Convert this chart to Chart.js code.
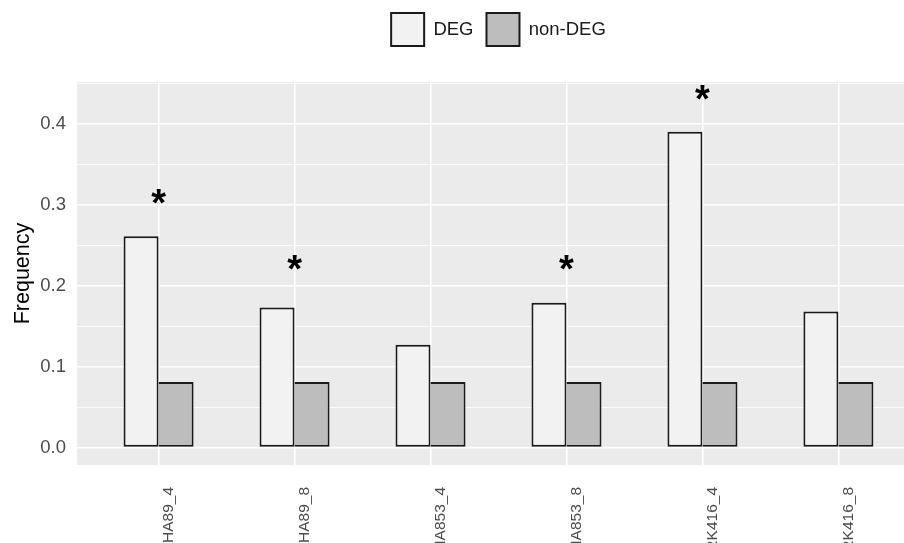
<!DOCTYPE html>
<html><head><meta charset="utf-8">
<script src="https://cdn.jsdelivr.net/npm/chart.js@4.4.1/dist/chart.umd.min.js"></script>
<style>html,body{margin:0;padding:0;background:#fff;overflow:hidden;width:904px;height:543px}canvas{display:block}</style>
</head><body>
<canvas id="c" width="925" height="543" style="width:925px;height:543px"></canvas>
<script>
const categories = ['HA89_4', 'HA89_8', 'HA853_4', 'HA853_8', 'RK416_4', 'RK416_8'];
const seriesNames = ['DEG', 'non-DEG'];
const degValues = [0.261, 0.173, 0.127, 0.179, 0.390, 0.168];
const nonDegValues = [0.081, 0.081, 0.081, 0.081, 0.081, 0.081];
const starValues = [0.310, 0.228, null, 0.229, 0.438, null];
const yTickLabels = ['0.0', '0.1', '0.2', '0.3', '0.4'];
const yAxisTitle = 'Frequency';

const FONT = '"Liberation Sans", Arial, sans-serif';
const isMajor = v => Math.round(v * 100) % 10 === 0;

const panelPlugin = {
  id: 'panel',
  beforeDraw(chart) {
    const {ctx, chartArea: a} = chart;
    ctx.save();
    ctx.fillStyle = '#EBEBEB';
    ctx.fillRect(a.left, a.top, a.right - a.left, a.bottom - a.top);
    ctx.restore();
  }
};

const starPlugin = {
  id: 'stars',
  afterDatasetsDraw(chart) {
    const {ctx, scales: {x, y}} = chart;
    ctx.save();
    ctx.font = 'bold 38px ' + FONT;
    ctx.fillStyle = '#000';
    ctx.textAlign = 'center';
    ctx.textBaseline = 'alphabetic';
    const m = ctx.measureText('*');
    const shift = (m.actualBoundingBoxAscent - m.actualBoundingBoxDescent) / 2;
    starValues.forEach((v, i) => {
      if (v == null) return;
      ctx.fillText('*', x.getPixelForValue(i), y.getPixelForValue(v) + shift);
    });
    ctx.restore();
  }
};

const toPoints = arr => arr.map((v, i) => ({x: i, y: v}));

new Chart(document.getElementById('c'), {
  type: 'bar',
  data: {
    datasets: [
      {
        label: seriesNames[0],
        data: toPoints(degValues),
        backgroundColor: '#F2F2F2',
        borderColor: '#1A1A1A',
        borderWidth: 2,
        borderSkipped: false
      },
      {
        label: seriesNames[1],
        data: toPoints(nonDegValues),
        backgroundColor: '#BDBDBD',
        borderColor: '#1A1A1A',
        borderWidth: {top: 2, right: 2, bottom: 2, left: 0},
        borderSkipped: false
      }
    ]
  },
  options: {
    responsive: false,
    animation: false,
    categoryPercentage: 0.515,
    barPercentage: 1.0,
    layout: {padding: {left: 0, right: 5, top: 0, bottom: 0}},
    plugins: {
      legend: {
        position: 'top',
        fullSize: false,
        weight: 3000,
        labels: {
          boxWidth: 33,
          boxHeight: 33,
          padding: 13,
          color: '#1A1A1A',
          font: {family: FONT, size: 18.5},
          generateLabels(chart) {
            const items = Chart.defaults.plugins.legend.labels.generateLabels(chart);
            items.forEach(it => { it.lineWidth = 2; it.strokeStyle = '#1A1A1A'; });
            return items;
          }
        }
      },
      title: {display: true, text: ' ', font: {size: 10}, padding: {top: 0, bottom: 14}},
      tooltip: {enabled: false}
    },
    scales: {
      x: {
        type: 'linear',
        min: -0.6,
        max: 5.6,
        offset: false,
        grid: {offset: false, color: '#FFFFFF', lineWidth: 1.6, drawTicks: true, tickLength: 6, tickColor: 'rgba(0,0,0,0)'},
        border: {display: false},
        ticks: {
          stepSize: 1,
          includeBounds: false,
          autoSkip: false,
          minRotation: 90,
          maxRotation: 90,
          padding: 16,
          labelOffset: 10,
          color: '#4D4D4D',
          font: {family: FONT, size: 15.5},
          callback: v => categories[v] ?? ''
        },
        afterFit(s) { s.height = 78; }
      },
      y: {
        min: -0.0215,
        max: 0.4515,
        grid: {
          color: '#FFFFFF',
          lineWidth: c => (c.tick && isMajor(c.tick.value)) ? 1.6 : 0.8,
          tickColor: 'rgba(0,0,0,0)',
          tickLength: 6
        },
        border: {display: false},
        ticks: {
          stepSize: 0.05,
          includeBounds: false,
          autoSkip: false,
          padding: 5,
          color: '#4D4D4D',
          font: {family: FONT, size: 18.5},
          callback: v => isMajor(v) ? yTickLabels[Math.round(v * 10)] : ''
        },
        title: {display: true, text: yAxisTitle, color: '#000', font: {family: FONT, size: 21.5}, padding: {top: 10, bottom: 0}},
        afterFit(s) { s.width = 77; }
      }
    }
  },
  plugins: [panelPlugin, starPlugin]
});
</script>
</body></html>
